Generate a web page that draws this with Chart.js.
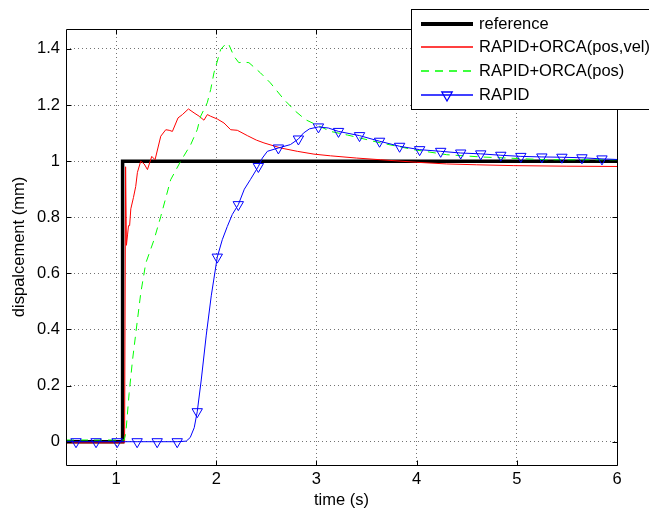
<!DOCTYPE html>
<html>
<head>
<meta charset="utf-8">
<script src="https://cdn.jsdelivr.net/npm/chart.js@4.4.0/dist/chart.umd.min.js"></script>
<style>
  html, body { margin: 0; padding: 0; background: #fff; }
  canvas { display: block; }
</style>
</head>
<body>
<canvas id="chart" width="649" height="510"></canvas>
<script>
// tick labels
const xTicks = [1, 2, 3, 4, 5, 6];
const yTicks = [0, 0.2, 0.4, 0.6, 0.8, 1, 1.2, 1.4];

// series names
const seriesNames = ['reference', 'RAPID+ORCA(pos,vel)', 'RAPID+ORCA(pos)', 'RAPID'];

// reference step
const refT = [0.5, 1.065, 1.065, 6];
const refV = [0, 0, 1, 1];

// RAPID+ORCA(pos,vel)
const redT = [0.5, 1.085, 1.095, 1.103, 1.115, 1.124, 1.135, 1.147, 1.173, 1.196, 1.213, 1.246, 1.28, 1.313, 1.356, 1.389,
  1.446, 1.496, 1.53, 1.562, 1.618, 1.662, 1.722, 1.778, 1.83, 1.877, 1.911, 1.944, 2.011, 2.077, 2.144, 2.21,
  2.31, 2.40, 2.476, 2.642, 2.809, 2.975, 3.14, 3.4, 3.64, 4.0, 4.3, 4.6, 4.97, 5.5, 6.0];
const redV = [-0.004, -0.004, 0.98, 0.70, 0.74, 0.77, 0.77, 0.83, 0.87, 0.91, 0.96, 1.0, 0.99, 0.97, 1.017, 1.005,
  1.089, 1.112, 1.11, 1.106, 1.154, 1.166, 1.186, 1.172, 1.16, 1.146, 1.166, 1.16, 1.15, 1.136, 1.112, 1.11,
  1.091, 1.075, 1.065, 1.047, 1.035, 1.025, 1.019, 1.011, 1.005, 0.996, 0.99, 0.987, 0.984, 0.982, 0.981];

// RAPID+ORCA(pos)
const greenT = [0.5, 1.08, 1.097, 1.13, 1.164, 1.213, 1.246, 1.296, 1.379, 1.446, 1.545, 1.645, 1.745, 1.81, 1.844,
  1.91, 1.944, 1.977, 2.044, 2.10, 2.125, 2.176, 2.225, 2.27, 2.326, 2.44, 2.54, 2.675, 2.79, 2.89, 3.008, 3.14,
  3.31, 3.64, 3.97, 4.3, 4.64, 5.3, 6.0];
const greenV = [0.006, 0.006, 0.03, 0.172, 0.291, 0.434, 0.529, 0.636, 0.72, 0.803, 0.934, 1.0, 1.059, 1.112, 1.16,
  1.208, 1.255, 1.315, 1.398, 1.42, 1.416, 1.374, 1.351, 1.353, 1.351, 1.315, 1.279, 1.22, 1.178, 1.148, 1.128, 1.106,
  1.093, 1.065, 1.041, 1.023, 1.015, 1.005, 1.005];

// RAPID
const blueT = [0.5, 0.6, 0.8, 1.01, 1.21, 1.41, 1.61, 1.70, 1.74, 1.78, 1.81, 1.85, 1.90, 1.95, 2.01, 2.06, 2.11,
  2.16, 2.22, 2.28, 2.34, 2.42, 2.46, 2.51, 2.62, 2.74, 2.82, 2.87, 2.93, 3.02, 3.12, 3.22, 3.43, 3.63, 3.83, 4.03,
  4.24, 4.44, 4.64, 4.84, 5.04, 5.25, 5.45, 5.65, 5.85, 6.0];
const blueV = [0, 0, 0, 0, 0, 0, 0, 0.002, 0.015, 0.05, 0.107, 0.22, 0.38, 0.52, 0.658, 0.72, 0.767,
  0.81, 0.845, 0.9, 0.934, 0.981, 1.011, 1.035, 1.047, 1.059, 1.079, 1.10, 1.115, 1.122, 1.118, 1.106, 1.091, 1.071, 1.053, 1.041,
  1.035, 1.029, 1.026, 1.021, 1.017, 1.015, 1.014, 1.012, 1.008, 1.006];
const blueMarkerT = [0.6, 0.8, 1.01, 1.21, 1.41, 1.61, 1.81, 2.01, 2.22, 2.42, 2.62, 2.82, 3.02, 3.22, 3.43, 3.63,
  3.83, 4.03, 4.24, 4.44, 4.64, 4.84, 5.04, 5.25, 5.45, 5.65, 5.85];

const colors = ['#000000', '#ff0000', '#00ff00', '#0000ff'];
const widths = [3.5, 1, 1, 1];
const dashes = [[], [], [8, 6], []];

const pts = (t, v) => t.map((x, i) => ({ x: x, y: v[i] }));
const fontFamily = '"Liberation Sans", Arial, sans-serif';
const font = { family: fontFamily, size: 16.5 };

// frame with inward ticks, matlab style
const frame = {
  id: 'frame',
  afterDatasetsDraw(chart) {
    const { ctx, chartArea: a, scales } = chart;
    const L = Math.round(a.left) + 0.5, R = Math.round(a.right) + 0.5;
    const T = Math.round(a.top) + 0.5, B = Math.round(a.bottom) + 0.5;
    ctx.save();
    ctx.strokeStyle = '#000';
    ctx.lineWidth = 1;
    ctx.beginPath();
    ctx.rect(L, T, R - L, B - T);
    xTicks.forEach(v => {
      const px = Math.round(scales.x.getPixelForValue(v)) + 0.5;
      ctx.moveTo(px, B); ctx.lineTo(px, B - 5);
      ctx.moveTo(px, T); ctx.lineTo(px, T + 5);
    });
    yTicks.forEach(v => {
      const py = Math.round(scales.y.getPixelForValue(v)) + 0.5;
      ctx.moveTo(L, py); ctx.lineTo(L + 5, py);
      ctx.moveTo(R, py); ctx.lineTo(R - 5, py);
    });
    ctx.stroke();
    ctx.restore();
  }
};

// legend box sitting over the top right corner
const legendBox = {
  id: 'legendBox',
  afterDraw(chart) {
    const ctx = chart.ctx;
    ctx.save();
    ctx.fillStyle = '#fff';
    ctx.fillRect(411, 9, 260, 100);
    ctx.strokeStyle = '#000';
    ctx.lineWidth = 1;
    ctx.strokeRect(411.5, 9.5, 260, 100);
    const rows = [24, 47, 71, 95];
    seriesNames.forEach((name, i) => {
      const y = rows[i];
      ctx.strokeStyle = colors[i];
      ctx.lineWidth = i === 0 ? 4 : 1.3;
      ctx.setLineDash(dashes[i]);
      ctx.beginPath();
      ctx.moveTo(421, y);
      ctx.lineTo(473, y);
      ctx.stroke();
      ctx.setLineDash([]);
      if (i === 3) {
        const r = 6, cx = 447;
        ctx.beginPath();
        ctx.moveTo(cx, y + r);
        ctx.lineTo(cx - r * 0.866, y - r / 2);
        ctx.lineTo(cx + r * 0.866, y - r / 2);
        ctx.closePath();
        ctx.stroke();
      }
      ctx.fillStyle = '#000';
      ctx.font = '16.5px ' + fontFamily;
      ctx.textBaseline = 'middle';
      ctx.fillText(name, 479, y);
    });
    ctx.restore();
  }
};

new Chart(document.getElementById('chart').getContext('2d'), {
  type: 'line',
  data: {
    datasets: [{
      label: seriesNames[0],
      data: pts(refT, refV),
      borderColor: colors[0],
      borderWidth: widths[0],
      pointRadius: 0,
      order: 4
    }, {
      label: seriesNames[1],
      data: pts(redT, redV),
      borderColor: colors[1],
      borderWidth: widths[1],
      pointRadius: 0,
      order: 3
    }, {
      label: seriesNames[2],
      data: pts(greenT, greenV),
      borderColor: colors[2],
      borderWidth: widths[2],
      borderDash: dashes[2],
      pointRadius: 0,
      order: 2
    }, {
      label: seriesNames[3],
      data: pts(blueT, blueV),
      borderColor: colors[3],
      borderWidth: widths[3],
      pointStyle: 'triangle',
      rotation: 180,
      pointRadius: c => blueMarkerT.includes(c.raw.x) ? 6 : 0,
      pointBorderColor: colors[3],
      pointBackgroundColor: 'rgba(0,0,0,0)',
      pointBorderWidth: 1,
      order: 1
    }]
  },
  options: {
    responsive: false,
    animation: false,
    devicePixelRatio: 1,
    layout: { padding: { left: 0, right: 32, top: 29, bottom: 0 } },
    plugins: {
      legend: { display: false },
      tooltip: { enabled: false }
    },
    elements: { line: { tension: 0 } },
    scales: {
      x: {
        type: 'linear',
        min: 0.5,
        max: 6,
        afterBuildTicks: s => { s.ticks = xTicks.map(v => ({ value: v })); },
        afterFit: s => { s.height = 45; },
        grid: { color: 'rgba(0,0,0,0.55)', drawTicks: false },
        border: { display: false, dash: [1, 3] },
        ticks: { color: '#000', font: font, padding: 5, maxRotation: 0, callback: v => String(v) },
        title: { display: true, text: 'time (s)', color: '#000', font: font, padding: { top: 0, bottom: 0 } }
      },
      y: {
        type: 'linear',
        min: -0.083,
        max: 1.471,
        afterBuildTicks: s => { s.ticks = yTicks.map(v => ({ value: v })); },
        afterFit: s => { s.width = 66; },
        grid: { color: 'rgba(0,0,0,0.55)', drawTicks: false },
        border: { display: false, dash: [1, 3] },
        ticks: { color: '#000', font: font, padding: 6, callback: v => String(v) },
        title: { display: true, text: 'dispalcement (mm)', color: '#000', font: font, padding: { top: 10, bottom: 0 } }
      }
    }
  },
  plugins: [frame, legendBox]
});
</script>
</body>
</html>
